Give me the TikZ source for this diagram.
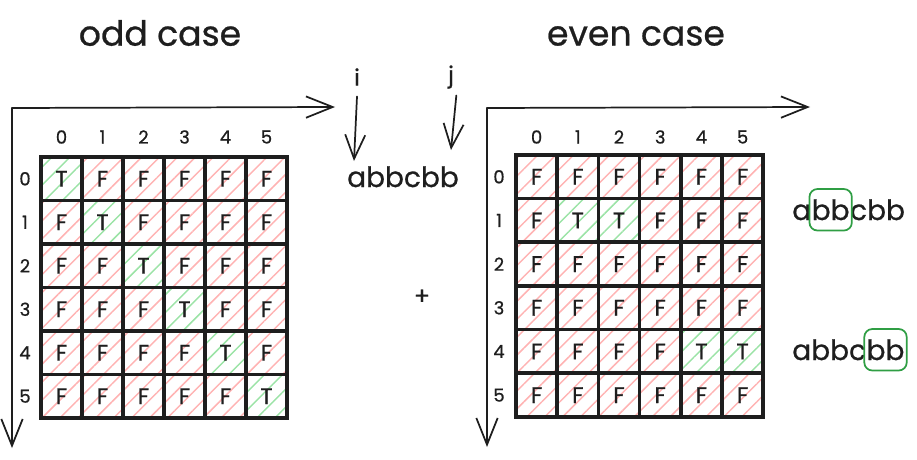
\documentclass[tikz,border=0pt]{standalone}
\usepackage{fontspec}
\setmainfont{Poppins}[FakeBold=0.7]
\usetikzlibrary{arrows.meta,patterns.meta,fit}
\definecolor{fred}{HTML}{FFB3B3}
\definecolor{tgreen}{HTML}{9BE3A6}
\definecolor{gboxc}{HTML}{2F9E44}
\definecolor{ink}{HTML}{1E1E1E}
\tikzset{
  cellbox/.style={draw=ink, line width=2.6pt, minimum width=30.75pt, minimum height=32.6pt,
    inner sep=0pt, font=\fontsize{17}{17}\selectfont, text=ink,
    pattern={Lines[angle=45,distance=9.5pt,line width=1.1pt]}},
  lab/.style={font=\fontsize{13.5}{13.5}\selectfont, text=ink, inner sep=1pt},
  titletext/.style={font=\fontsize{26}{26}\selectfont, text=ink},
  word/.style={font=\fontsize{21}{21}\selectfont, text=ink, inner sep=0pt},
  axis/.style={draw=ink, line width=1.3pt, line cap=round,
    -{Straight Barb[length=20pt,width=16pt,line width=1.3pt]}},
  ptr/.style={draw=ink, line width=1.3pt, line cap=round,
    -{Straight Barb[length=18pt,width=15pt,line width=1.3pt]}},
  gframe/.style={draw=gboxc, line width=1.3pt, rounded corners=6pt, inner xsep=1.5pt, inner ysep=7.5pt},
}
\begin{document}
\begin{tikzpicture}[x=0.75pt,y=-0.75pt]
\useasboundingbox (0,0) rectangle (917,460);
% titles
\node[titletext] (todd) at (160,33) {odd case};
\node[titletext] (teven) at (636,36) {even case};
% left axes
\coordinate (Lo) at (12,108);
\coordinate (Lx) at (335,107);
\coordinate (Ly) at (12,448);
\draw[axis] (Lo) -- (Lx);
\draw[axis] (Lo) -- (Ly);
% right axes
\coordinate (Ro) at (487,108);
\coordinate (Rx) at (810,107);
\coordinate (Ry) at (487,447);
\draw[axis] (Ro) -- (Rx);
\draw[axis] (Ro) -- (Ry);
% index labels
\foreach \c in {0,...,5}{
  \node[lab] (Lc\c) at ({61.5+41*\c},137) {\c};
  \node[lab] (Lr\c) at (25,{178.75+43.5*\c}) {\c};
  \node[lab] (Rc\c) at ({536.6+41.2*\c},137) {\c};
  \node[lab] (Rr\c) at (499,{176.8+43.67*\c}) {\c};
}
% left grid
\foreach \r in {0,...,5}{
  \foreach \c in {0,...,5}{
    \ifnum\r=\c \def\v{T}\def\col{tgreen}\else\def\v{F}\def\col{fred}\fi
    \node[cellbox, pattern color=\col] (L\r\c) at ({61.5+41*\c},{178.75+43.5*\r}) {\v};
  }
}
% right grid
\foreach \r in {0,...,5}{
  \foreach \c in {0,...,5}{
    \pgfmathtruncatemacro\ist{or(and(\r==1,or(\c==1,\c==2)),and(\r==4,\c>=4))}
    \ifnum\ist=1 \def\v{T}\def\col{tgreen}\else\def\v{F}\def\col{fred}\fi
    \node[cellbox, pattern color=\col] (R\r\c) at ({536.6+41.2*\c},{176.8+43.67*\r}) {\v};
  }
}
% middle
\node[word, font=\fontsize{17}{17}\selectfont] (i) at (357,77) {i};
\node[word, font=\fontsize{17}{17}\selectfont] (j) at (451,77) {j};
\node[word, anchor=base] (mid) at (403,187) {abbcbb};
\coordinate (ia) at (354,161);
\coordinate (ja) at (451,150);
\draw[ptr] ([yshift=-8pt]i.south) -- (ia);
\draw[ptr] ([xshift=4pt,yshift=-5pt]j.south) -- (ja);
\node[font=\fontsize{18}{18}\selectfont, text=ink] (plus) at (422,297) {+};
% right words
\node[word, anchor=base west] (wa1) at (792,220) {a};
\node[word, anchor=base west] (wb1) at (wa1.base east) {bb};
\node[word, anchor=base west] (wc1) at (wb1.base east) {cbb};
\node[gframe, fit=(wb1)] (g1) {};
\node[word, anchor=base west] (wa2) at (792,360) {abbc};
\node[word, anchor=base west] (wb2) at (wa2.base east) {bb};
\node[gframe, fit=(wb2)] (g2) {};
\end{tikzpicture}
\end{document}
